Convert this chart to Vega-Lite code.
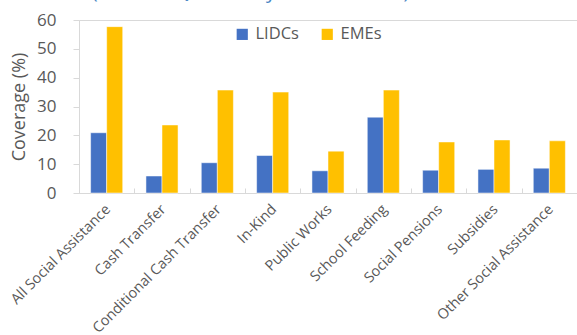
{
  "$schema": "https://vega.github.io/schema/vega-lite/v6.json",
  "width": 498,
  "height": 173,
  "autosize": {"type": "none"},
  "padding": {"left": 79, "top": 20, "right": 0, "bottom": 142},
  "title": {
    "text": "(Poorest Quintile by Income Level)",
    "color": "#4A86C5",
    "font": "Open Sans",
    "fontSize": 20,
    "fontWeight": "normal",
    "anchor": "start",
    "dx": 84,
    "dy": 9.5,
    "offset": 3,
    "baseline": "alphabetic"
  },
  "data": {
    "values": [
      {"program": "All Social Assistance", "group": "LIDCs", "value": 20.9},
      {"program": "All Social Assistance", "group": "EMEs", "value": 57.7},
      {"program": "Cash Transfer", "group": "LIDCs", "value": 5.9},
      {"program": "Cash Transfer", "group": "EMEs", "value": 23.6},
      {"program": "Conditional Cash Transfer", "group": "LIDCs", "value": 10.5},
      {"program": "Conditional Cash Transfer", "group": "EMEs", "value": 35.7},
      {"program": "In-Kind", "group": "LIDCs", "value": 13.0},
      {"program": "In-Kind", "group": "EMEs", "value": 35.0},
      {"program": "Public Works", "group": "LIDCs", "value": 7.7},
      {"program": "Public Works", "group": "EMEs", "value": 14.5},
      {"program": "School Feeding", "group": "LIDCs", "value": 26.3},
      {"program": "School Feeding", "group": "EMEs", "value": 35.7},
      {"program": "Social Pensions", "group": "LIDCs", "value": 7.9},
      {"program": "Social Pensions", "group": "EMEs", "value": 17.7},
      {"program": "Subsidies", "group": "LIDCs", "value": 8.2},
      {"program": "Subsidies", "group": "EMEs", "value": 18.4},
      {"program": "Other Social Assistance", "group": "LIDCs", "value": 8.6},
      {"program": "Other Social Assistance", "group": "EMEs", "value": 18.1}
    ]
  },
  "mark": {"type": "bar", "stroke": "white", "strokeWidth": 0.5},
  "encoding": {
    "x": {
      "field": "program",
      "type": "nominal",
      "sort": null,
      "scale": {"paddingInner": 0.42, "paddingOuter": 0.21},
      "axis": {
        "title": null,
        "labelAngle": -45,
        "labelFont": "Open Sans",
        "labelFontSize": 14.5,
        "labelColor": "#595959",
        "labelPadding": 14,
        "domainColor": "#D9D9D9",
        "tickColor": "#D9D9D9",
        "tickSize": -5,
        "tickOffset": -27.7,
        "labelOffset": 24
      }
    },
    "xOffset": {"field": "group", "type": "nominal", "sort": ["LIDCs", "EMEs"], "scale": {"paddingInner": 0, "paddingOuter": 0}},
    "y": {
      "field": "value",
      "type": "quantitative",
      "scale": {"domain": [0, 60], "nice": false},
      "axis": {
        "title": "Coverage (%)",
        "titleFont": "Open Sans",
        "titleFontSize": 18,
        "titleFontWeight": "normal",
        "titleColor": "#595959",
        "titlePadding": 8,
        "values": [0, 10, 20, 30, 40, 50, 60],
        "labelFont": "Open Sans",
        "labelFontSize": 17,
        "labelColor": "#595959",
        "labelPadding": 17,
        "grid": false,
        "domainColor": "#D9D9D9",
        "tickColor": "#D9D9D9",
        "tickSize": 6
      }
    },
    "color": {
      "field": "group",
      "type": "nominal",
      "sort": ["LIDCs", "EMEs"],
      "scale": {"domain": ["LIDCs", "EMEs"], "range": ["#4472C4", "#FFC000"]},
      "legend": {
        "title": null,
        "orient": "none",
        "direction": "horizontal",
        "legendX": 155,
        "legendY": 6,
        "symbolType": "square",
        "symbolSize": 125,
        "symbolStrokeWidth": 0,
        "labelFont": "Open Sans",
        "labelFontSize": 16.5,
        "labelColor": "#595959",
        "columnPadding": 20,
        "labelOffset": 5
      }
    }
  },
  "config": {
    "view": {"stroke": "#D9D9D9", "strokeWidth": 1},
    "background": "white"
  }
}
